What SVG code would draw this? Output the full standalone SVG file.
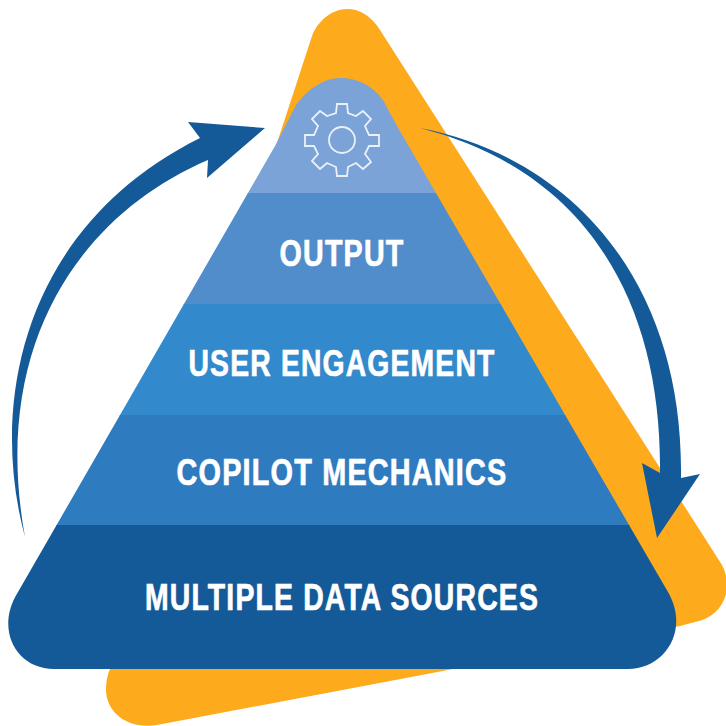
<svg xmlns="http://www.w3.org/2000/svg" width="726" height="726" viewBox="0 0 726 726">
<style>
.lbl{font-family:"Liberation Sans",Arial,sans-serif;font-weight:700;font-size:36px;letter-spacing:1.5px;fill:#fff;stroke:#fff;stroke-width:.7;text-anchor:middle}
.arrow{fill:#155a98}
</style>
<defs>
<clipPath id="pyr"><path d="M275 146L296 105C308 88 325 78 340 78C358 78 373 86 383 100L397 126L668 592C690 630 665 669 628 669H54C15 669 -5 628 18 592Z"/></clipPath>
</defs>
<g id="backdrop"><path d="M278 140L312 36C318 20 333 9 347 9C360 9 371 16 380 30L722 565C735 590 722 617 695 622C690 623 685 625 680 626L157 725C125 730 106 710 106 690C106 680 108 672 112 665Z" fill="#fdaa1c"/></g>
<g id="pyramid" clip-path="url(#pyr)">
<g id="tier-gear"><rect x="0" y="60" width="726" height="134" fill="#7ba3d7"/>
<g id="gear" fill="none" stroke="#fff" stroke-opacity=".85" stroke-width="1.8"><circle cx="342" cy="140" r="13"/><path d="M337 104H347L348 113L356 116L363 111L371 119L365 126L369 135H379V146H369L365 154L371 162L363 169L356 163L348 167L347 176H337L336 167L327 163L320 169L312 161L318 154L314 146H305V135H314L318 126L312 119L320 111L327 116L336 113Z"/></g></g>
<g id="tier-output"><rect x="0" y="193" width="726" height="112" fill="#518ccb"/><text class="lbl" x="342" y="266" textLength="125" lengthAdjust="spacingAndGlyphs">OUTPUT</text></g>
<g id="tier-engagement"><rect x="0" y="304" width="726" height="112" fill="#3289cb"/><text class="lbl" x="342" y="376" textLength="307" lengthAdjust="spacingAndGlyphs">USER ENGAGEMENT</text></g>
<g id="tier-mechanics"><rect x="0" y="415" width="726" height="111" fill="#2f7bbf"/><text class="lbl" x="342" y="485" textLength="331" lengthAdjust="spacingAndGlyphs">COPILOT MECHANICS</text></g>
<g id="tier-sources"><rect x="0" y="525" width="726" height="150" fill="#155a98"/><text class="lbl" x="342" y="610" textLength="394" lengthAdjust="spacingAndGlyphs">MULTIPLE DATA SOURCES</text></g>
</g>
<g id="connectors">
<path class="arrow" d="M25 537C-12 400 25 225 200 138L188 122L265 128L207 178L208 160C80 215 -10 345 25 537Z"/>
<path class="arrow" d="M420 128C575 158 684 285 681 478L700 474L657 538L642 463L660 473C662 300 585 170 420 128Z"/>
</g>
</svg>
